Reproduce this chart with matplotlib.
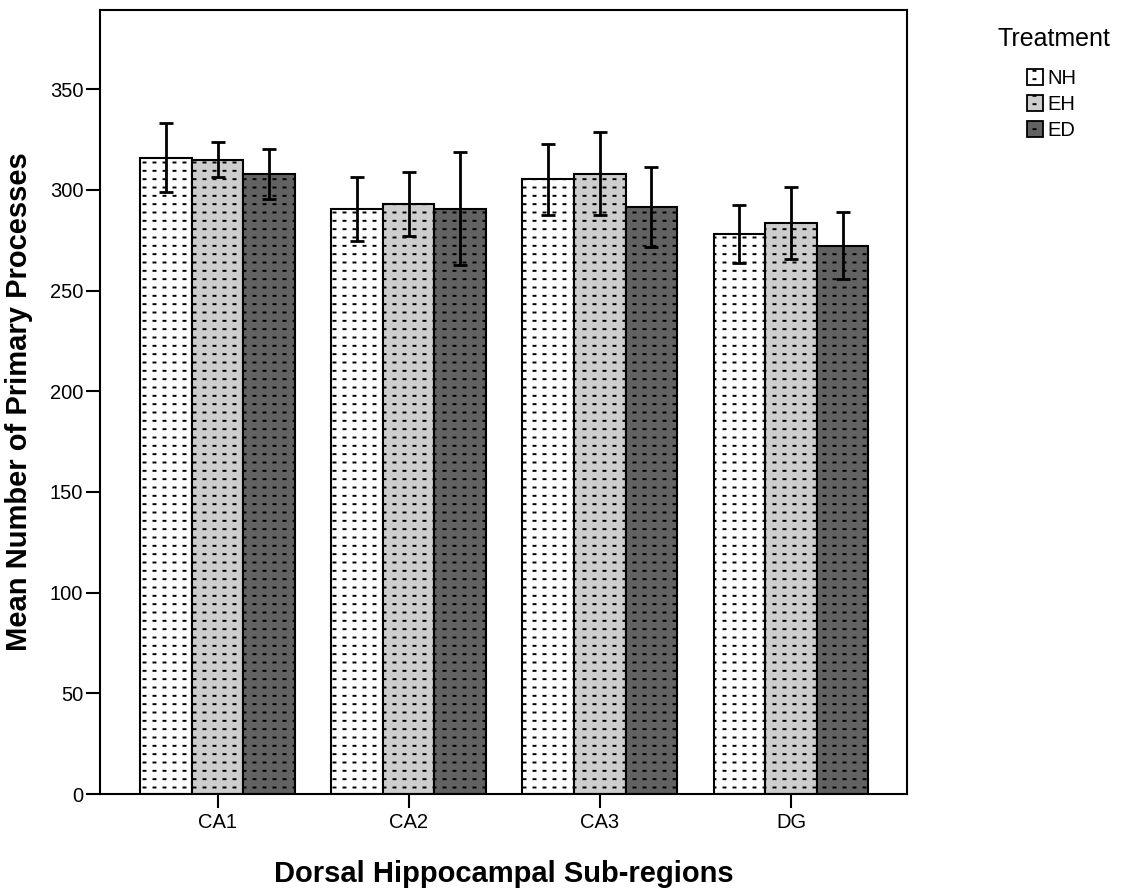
import warnings
import numpy as np
import matplotlib
matplotlib.use("Agg")
import matplotlib.pyplot as plt
import matplotlib.hatch as mhatch
from matplotlib.path import Path
from matplotlib.patches import Patch

warnings.filterwarnings("ignore")

regions = ["CA1", "CA2", "CA3", "DG"]
treatments = ["NH", "EH", "ED"]
means = {
    "NH": [316.0, 290.5, 305.2, 278.1],
    "EH": [315.0, 293.0, 308.1, 283.5],
    "ED": [307.9, 290.7, 291.4, 272.2],
}
errors = {
    "NH": [17.2, 15.9, 17.7, 14.5],
    "EH": [8.6, 15.9, 20.5, 17.9],
    "ED": [12.6, 28.2, 19.8, 16.6],
}
colors = {"NH": "#ffffff", "EH": "#cdcdcd", "ED": "#626262"}


class DashGrid(mhatch.HatchPatternBase):
    """Small horizontal dashes laid out on a regular grid ('_' hatch)."""

    def __init__(self, hatch, density):
        n = hatch.count("_")
        self.num_cols = 10 * n
        self.num_rows = 12 * n
        self.num_vertices = 2 * self.num_cols * self.num_rows if n else 0

    def set_vertices_and_codes(self, vertices, codes):
        k = 0
        for i in range(self.num_rows):
            y = (i + 0.5) / self.num_rows
            for j in range(self.num_cols):
                x = (j + 0.35) / self.num_cols
                vertices[k] = (x, y)
                vertices[k + 1] = (x + 0.02, y)
                codes[k] = Path.MOVETO
                codes[k + 1] = Path.LINETO
                k += 2


mhatch._hatch_types.append(DashGrid)

plt.rcParams["font.family"] = ["Liberation Sans", "DejaVu Sans"]
plt.rcParams["hatch.linewidth"] = 1.4

fig = plt.figure(figsize=(11.3, 8.88), dpi=100)
ax = fig.add_axes([100 / 1130, 94 / 888, 807 / 1130, 784 / 888])

x = np.arange(len(regions))
width = 0.27
for k, t in enumerate(treatments):
    pos = x + (k - 1) * width
    ax.bar(pos, means[t], width, color=colors[t], edgecolor="black",
           linewidth=1.5, hatch="_", zorder=2)
    ax.errorbar(pos, means[t], yerr=errors[t], fmt="none", ecolor="black",
                elinewidth=2.0, capsize=5, capthick=2.0, zorder=3)

ax.set_xlim(-0.615, 3.607)
ax.set_ylim(0, 389.3)
ax.set_xticks(x)
ax.set_xticklabels(regions)
ax.set_yticks(np.arange(0, 351, 50))
ax.tick_params(axis="both", length=10, width=1.5, labelsize=14.5, pad=2)
ax.tick_params(axis="x", pad=4)
for s in ax.spines.values():
    s.set_linewidth(1.5)

ax.set_ylabel("Mean Number of Primary Processes", fontsize=21,
              fontweight="bold", labelpad=12)
ax.set_xlabel("Dorsal Hippocampal Sub-regions", fontsize=21,
              fontweight="bold", labelpad=20)

fig.text(997 / 1130, 1 - 39 / 888, "Treatment", fontsize=18, va="center",
         ha="left")
handles = [Patch(facecolor=colors[t], edgecolor="black", hatch="_",
                 linewidth=1.3) for t in treatments]
fig.legend(handles, treatments, loc="upper left",
           bbox_to_anchor=(1027 / 1130, 1 - 69 / 888), frameon=False,
           fontsize=14.5, handlelength=0.8, handleheight=0.8,
           handletextpad=0.2, labelspacing=0.35, borderpad=0,
           borderaxespad=0)

fig.savefig("out.png", dpi=100)
